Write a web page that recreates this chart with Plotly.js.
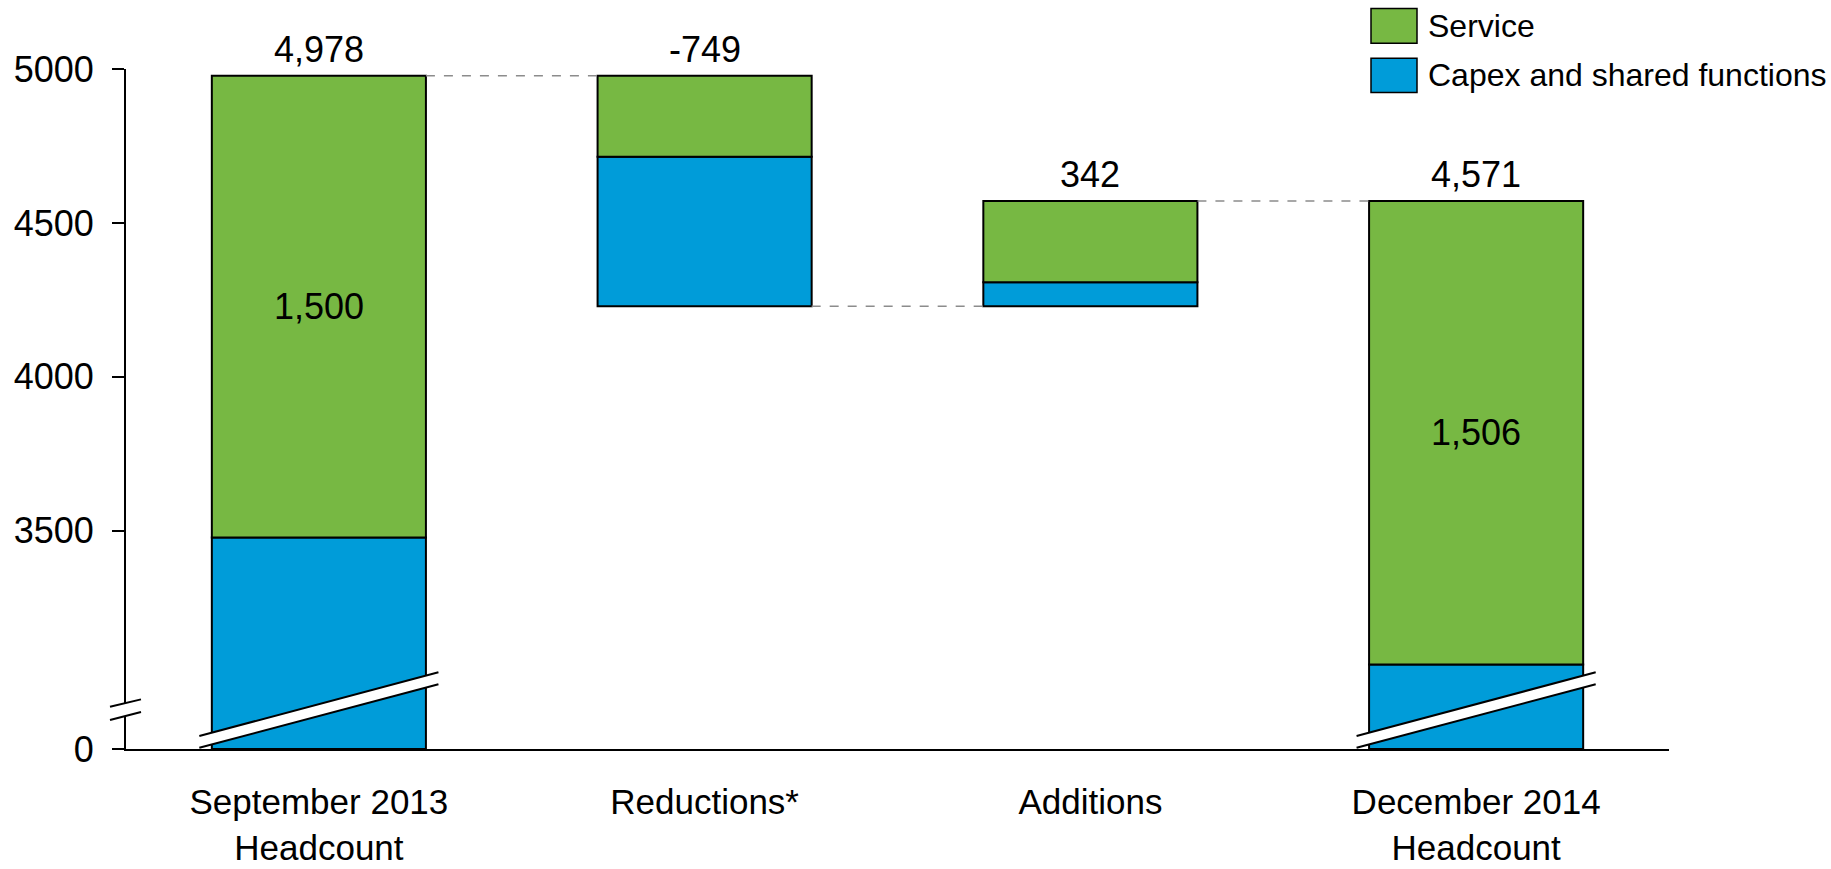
<!DOCTYPE html>
<html>
<head>
<meta charset="utf-8">
<script src="https://cdn.plot.ly/plotly-3.0.1.min.js"></script>
<style>
  html, body { margin: 0; padding: 0; background: #ffffff; }
  #chart { width: 1831px; height: 869px; }
</style>
</head>
<body>
<div id="chart"></div>
<script>
// ---------------- data ----------------
const categories = ['September 2013<br>Headcount', 'Reductions*', 'Additions', 'December 2014<br>Headcount'];
const barKinds = ['absolute', 'relative', 'relative', 'absolute'];
const capexValues = [3478, -486, 78, 3065];
const serviceValues = [1500, -263, 264, 1506];
const totalLabels = ['4,978', '-749', '342', '4,571'];
const serviceLabels = ['1,500', '', '', '1,506'];
const yTickValues = [0, 3500, 4000, 4500, 5000];
const yTickLabels = ['0', '3500', '4000', '4500', '5000'];
const seriesNames = ['Service', 'Capex and shared functions'];

// ---------------- style / layout constants ----------------
const FONT = 'Arial, "Liberation Sans", "Helvetica Neue", sans-serif';
const GREEN = '#77B843';
const BLUE = '#009CD9';
const AXIS_BOTTOM = 2790.8;   // where the broken axis shows 0
const AXIS_TOP = 5000;
const BAR_WIDTH = 0.555;
const M = { l: 126, r: 162, t: 69, b: 120 };
const W = 1831, H = 869;
const plotW = W - M.l - M.r, plotH = H - M.t - M.b;

// broken axis: 0 is drawn at the bottom of the visible range
function disp(v) { return v <= 0 ? AXIS_BOTTOM : v; }
function pxX(px) { return (px - M.l) / plotW; }
function pxY(py) { return (H - M.b - py) / plotH; }

// ---------------- waterfall geometry ----------------
const xs = categories.map((_, i) => i);
const capBase = [], capTop = [], srvBase = [], srvTop = [], levels = [];
let level = 0;
for (let i = 0; i < categories.length; i++) {
  if (barKinds[i] === 'absolute') {
    capBase.push(0); capTop.push(capexValues[i]);
    srvBase.push(capexValues[i]); srvTop.push(capexValues[i] + serviceValues[i]);
    level = capexValues[i] + serviceValues[i];
  } else if (capexValues[i] + serviceValues[i] >= 0) {
    capBase.push(level); capTop.push(level + capexValues[i]);
    srvBase.push(level + capexValues[i]); srvTop.push(level + capexValues[i] + serviceValues[i]);
    level = level + capexValues[i] + serviceValues[i];
  } else {
    srvTop.push(level); srvBase.push(level + serviceValues[i]);
    capTop.push(level + serviceValues[i]); capBase.push(level + serviceValues[i] + capexValues[i]);
    level = level + serviceValues[i] + capexValues[i];
  }
  levels.push(level);
}
const barTops = xs.map(i => Math.max(capTop[i], srvTop[i], capBase[i], srvBase[i]));

const outline = { color: '#000000', width: 2 };
const traces = [
  {
    type: 'bar', name: seriesNames[1], x: xs,
    base: capBase.map(disp),
    y: xs.map(i => disp(capTop[i]) - disp(capBase[i])),
    width: BAR_WIDTH,
    marker: { color: BLUE, line: outline },
    hoverinfo: 'skip', showlegend: false
  },
  {
    type: 'bar', name: seriesNames[0], x: xs,
    base: srvBase.map(disp),
    y: xs.map(i => disp(srvTop[i]) - disp(srvBase[i])),
    width: BAR_WIDTH,
    marker: { color: GREEN, line: outline },
    hoverinfo: 'skip', showlegend: false
  }
];

// ---------------- annotations ----------------
const annotations = [];
xs.forEach(i => {
  annotations.push({
    x: i, y: disp(barTops[i]), xref: 'x', yref: 'y',
    text: totalLabels[i], showarrow: false, yanchor: 'bottom', yshift: 4,
    font: { family: FONT, size: 36, color: '#000' }
  });
  if (serviceLabels[i]) {
    annotations.push({
      x: i, y: (disp(srvBase[i]) + disp(srvTop[i])) / 2, xref: 'x', yref: 'y',
      text: serviceLabels[i], showarrow: false, yanchor: 'middle',
      font: { family: FONT, size: 36, color: '#000' }
    });
  }
});

// legend drawn by hand (large swatches)
const legendItems = [
  { name: seriesNames[0], color: GREEN, top: 8.5, bottom: 43.3 },
  { name: seriesNames[1], color: BLUE, top: 58.2, bottom: 92.4 }
];
const shapes = [];
legendItems.forEach(it => {
  shapes.push({
    type: 'rect', xref: 'paper', yref: 'paper',
    x0: pxX(1371), x1: pxX(1417), y0: pxY(it.bottom), y1: pxY(it.top),
    fillcolor: it.color, line: { color: '#000', width: 1.5 }
  });
  annotations.push({
    xref: 'paper', yref: 'paper', x: pxX(1426), y: pxY((it.top + it.bottom) / 2),
    xanchor: 'left', yanchor: 'middle', showarrow: false, text: it.name,
    font: { family: FONT, size: 32, color: '#000' }
  });
});

// dashed connectors between consecutive bars
for (let i = 0; i < categories.length - 1; i++) {
  shapes.push({
    type: 'line', xref: 'x', yref: 'y',
    x0: i + BAR_WIDTH / 2, x1: i + 1 - BAR_WIDTH / 2,
    y0: disp(levels[i]), y1: disp(levels[i]),
    line: { color: '#8c8c8c', width: 1.5, dash: 'dash' }
  });
}

// diagonal break bands on bars that start at 0
const bandL = -0.31, bandR = 0.31;
const bandLowL = 2795, bandLowR = 3001, bandUpL = 2833, bandUpR = 3040;
xs.forEach(i => {
  if (capBase[i] !== 0) return;
  shapes.push({
    type: 'path', xref: 'x', yref: 'y', layer: 'above',
    path: `M ${i + bandL},${bandLowL} L ${i + bandR},${bandLowR} L ${i + bandR},${bandUpR} L ${i + bandL},${bandUpL} Z`,
    fillcolor: '#ffffff', line: { width: 0 }
  });
  shapes.push({ type: 'line', xref: 'x', yref: 'y', x0: i + bandL, x1: i + bandR, y0: bandLowL, y1: bandLowR, line: { color: '#000', width: 2 } });
  shapes.push({ type: 'line', xref: 'x', yref: 'y', x0: i + bandL, x1: i + bandR, y0: bandUpL, y1: bandUpR, line: { color: '#000', width: 2 } });
});

// break marks on the y axis
const bx0 = pxX(110), bx1 = pxX(141);
shapes.push({
  type: 'path', xref: 'paper', yref: 'y',
  path: `M ${bx0},${2885} L ${bx1},${2911} L ${bx1},${2952} L ${bx0},${2928} Z`,
  fillcolor: '#ffffff', line: { width: 0 }
});
shapes.push({ type: 'line', xref: 'paper', yref: 'y', x0: bx0, x1: bx1, y0: 2885, y1: 2911, line: { color: '#000', width: 2 } });
shapes.push({ type: 'line', xref: 'paper', yref: 'y', x0: bx0, x1: bx1, y0: 2928, y1: 2952, line: { color: '#000', width: 2 } });

const layout = {
  width: W, height: H,
  margin: M,
  paper_bgcolor: '#ffffff', plot_bgcolor: '#ffffff',
  barmode: 'overlay',
  showlegend: false,
  font: { family: FONT, size: 36, color: '#000' },
  xaxis: {
    type: 'linear', range: [-0.5, categories.length - 0.5],
    tickmode: 'array', tickvals: xs, ticktext: categories,
    showline: true, linecolor: '#000', linewidth: 2,
    ticks: '', showgrid: false, zeroline: false,
    ticklabelstandoff: 21,
    tickfont: { family: FONT, size: 35, color: '#000' },
    fixedrange: true
  },
  yaxis: {
    range: [AXIS_BOTTOM, AXIS_TOP],
    tickmode: 'array', tickvals: yTickValues.map(disp), ticktext: yTickLabels,
    showline: true, linecolor: '#000', linewidth: 2,
    ticks: 'outside', ticklen: 12, tickwidth: 2, tickcolor: '#000',
    showgrid: false, zeroline: false,
    ticklabelstandoff: 11,
    tickfont: { family: FONT, size: 36, color: '#000' },
    fixedrange: true
  },
  annotations: annotations,
  shapes: shapes
};

Plotly.newPlot('chart', traces, layout, { displayModeBar: false, staticPlot: true });
</script>
</body>
</html>
